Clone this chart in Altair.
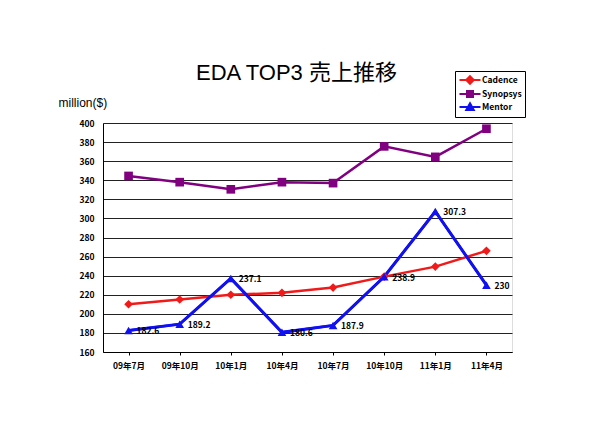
import altair as alt
import pandas as pd

periods = ["09年7月", "09年10月", "10年1月", "10年4月", "10年7月", "10年10月", "11年1月", "11年4月"]
series_names = ["Cadence", "Synopsys", "Mentor"]
cadence = [210, 215, 220, 222, 227.5, 239, 249.5, 266]
synopsys = [344.5, 338, 330.5, 338, 337, 375.5, 364.5, 394]
mentor = [182.6, 189.2, 237.1, 180.6, 187.9, 238.9, 307.3, 230]
colors = ["#F01A1A", "#800080", "#1010F0"]
shapes = ["diamond", "square", "triangle-up"]
legend_shapes = [
    "M-2.1,0H2.1M0,-0.75L0.75,0L0,0.75L-0.75,0Z",
    "M-2.1,0H2.1M-0.6,-0.6H0.6V0.6H-0.6Z",
    "M-2.1,0H2.1M0,-0.75L0.75,0.6H-0.75Z",
]

rows = []
for name, vals in zip(series_names, [cadence, synopsys, mentor]):
    for p, v in zip(periods, vals):
        rows.append({"period": p, "series": name, "value": v,
                     "label": (f"{v:g}" if name == "Mentor" else "")})
df = pd.DataFrame(rows)

font = "Noto Sans CJK JP"

x = alt.X("period:N", sort=periods, title=None,
          scale=alt.Scale(paddingInner=0, paddingOuter=0),
          axis=alt.Axis(labelAngle=0, labelFont=font, labelFontWeight="bold",
                        labelFontSize=8.5, labelColor="black", labelPadding=6,
                        tickColor="black", tickSize=3, bandPosition=0,
                        domainColor="black", grid=False))
y = alt.Y("value:Q", title="million($)",
          scale=alt.Scale(domain=[160, 400], nice=False, zero=False),
          axis=alt.Axis(values=list(range(160, 401, 20)), labelFont=font,
                        labelFontWeight="bold", labelFontSize=8.5, labelColor="black",
                        labelPadding=9, tickSize=0, gridColor="#222222", gridWidth=1,
                        domainColor="black", titleAngle=0, titleAlign="left",
                        titleBaseline="middle", titleX=-45, titleY=-21,
                        titleFont="Liberation Sans", titleFontSize=12,
                        titleFontWeight="normal", titleColor="black"))

col = alt.Color("series:N", scale=alt.Scale(domain=series_names, range=colors), legend=None)

lines = alt.Chart(df).mark_line(strokeWidth=2.5).encode(x=x, y=y, color=col)
lines_m = alt.Chart(df).transform_filter(alt.datum.series == "Mentor").mark_line(strokeWidth=3).encode(x=x, y=y, color=col)
points = alt.Chart(df).mark_point(filled=True, size=75, opacity=1).encode(
    x=x, y=y, color=col,
    shape=alt.Shape("series:N", scale=alt.Scale(domain=series_names, range=shapes), legend=None))
labels = alt.Chart(df).mark_text(align="left", baseline="middle", dx=8, dy=1,
                                 font=font, fontWeight="bold", fontSize=8.5,
                                 color="black").encode(x=x, y=y, text="label:N")

leg = alt.Legend(title=None, orient="none", legendX=352, legendY=-52,
                 strokeColor="black", fillColor="white", padding=3,
                 labelFont=font, labelFontWeight="bold", labelFontSize=8.5,
                 labelColor="black", symbolSize=100, symbolOpacity=1,
                 symbolStrokeWidth=2, symbolOffset=6, labelOffset=6, rowPadding=-3)
legend_layer = alt.Chart(df).mark_point(filled=True, opacity=0).encode(
    x=x, y=y,
    color=alt.Color("series:N", scale=alt.Scale(domain=series_names, range=colors), legend=leg),
    stroke=alt.Stroke("series:N", scale=alt.Scale(domain=series_names, range=colors), legend=leg),
    shape=alt.Shape("series:N", scale=alt.Scale(domain=series_names, range=legend_shapes), legend=leg),
)

chart = alt.layer(lines, lines_m, points, labels, legend_layer).resolve_scale(
    color="independent", shape="independent", stroke="independent"
).properties(
    width=409, height=229,
    autosize=alt.AutoSizeParams(type="none"),
    padding={"left": 95, "top": 115, "right": 80, "bottom": 50},
    title=alt.TitleParams("EDA TOP3 売上推移", font="Liberation Sans, Noto Sans CJK JP",
                          fontSize=22, fontWeight="normal", color="black",
                          anchor="middle", dx=-11, offset=39, dy=53),
).configure_view(stroke="black", strokeWidth=1).configure(background="white")

chart.save("out.html", embed_options={"renderer": "svg", "actions": False})
